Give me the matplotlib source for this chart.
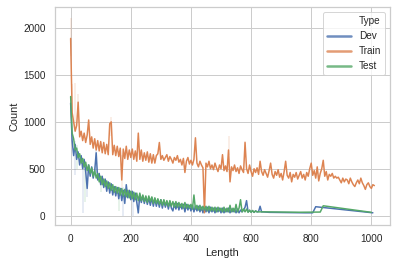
import numpy as np
import pandas as pd
import matplotlib
matplotlib.use('Agg')
import matplotlib.pyplot as plt
from matplotlib.lines import Line2D
import seaborn as sns

# values ---------------------------------------------------------------
train_x = list(range(0, 1015, 5))
train_y = [
    1890, 1100, 1000, 900, 960, 1210, 840, 900, 800, 880,
    780, 860, 1020, 760, 840, 720, 820, 700, 800, 690,
    790, 670, 780, 660, 760, 650, 980, 1000, 650, 750,
    640, 740, 630, 720, 380, 710, 610, 740, 600, 700,
    620, 710, 600, 690, 580, 880, 600, 700, 580, 670,
    590, 680, 570, 660, 560, 650, 560, 640, 660, 780,
    600, 640, 590, 620, 650, 580, 630, 600, 560, 620,
    590, 640, 570, 600, 540, 610, 460, 580, 620, 550,
    590, 540, 600, 830, 560, 520, 580, 540, 510, 30,
    560, 520, 580, 500, 540, 490, 560, 510, 470, 540,
    500, 650, 480, 530, 470, 700, 360, 520, 480, 540,
    470, 510, 450, 530, 490, 460, 780, 500, 450, 540,
    470, 420, 500, 460, 510, 440, 580, 470, 430, 490,
    450, 410, 480, 560, 440, 400, 470, 430, 490, 410,
    450, 380, 470, 580, 430, 400, 460, 360, 440, 410,
    460, 390, 430, 470, 400, 440, 380, 460, 420, 500,
    560, 430, 480, 400, 520, 370, 450, 500, 590, 420,
    470, 380, 440, 420, 450, 400, 420, 400, 410, 380,
    350, 400, 360, 390, 380, 340, 400, 360, 330, 310,
    350, 380, 340, 400, 350, 320, 280, 330, 350, 310,
    290, 330, 320,
]

dev_x = list(range(0, 645, 5)) + [660, 720, 780, 805, 815, 1005]
dev_y = [
    1200, 800, 640, 760, 600, 680, 540, 640, 500, 600,
    470, 290, 540, 420, 520, 400, 480, 670, 380, 450,
    330, 420, 300, 390, 260, 360, 240, 340, 220, 310,
    210, 300, 180, 290, 160, 270, 130, 330, 190, 270,
    170, 260, 150, 240, 140, 30, 220, 140, 210, 130,
    200, 120, 190, 110, 190, 100, 180, 100, 170, 90,
    170, 80, 160, 90, 150, 70, 150, 80, 50, 130,
    70, 130, 60, 120, 70, 120, 40, 120, 60, 110,
    50, 110, 40, 100, 50, 100, 40, 90, 30, 90,
    40, 90, 30, 90, 40, 80, 30, 80, 40, 80,
    30, 80, 30, 70, 40, 80, 30, 70, 40, 70,
    30, 70, 30, 60, 40, 60, 90, 160, 40, 50,
    40, 50, 35, 50, 40, 45, 100, 40, 40,
    35, 32, 30, 30, 95, 30,
]

test_x = list(range(0, 625, 5)) + [650, 700, 760, 830, 840, 1000]
test_y = [
    1270, 880, 820, 700, 720, 620, 660, 560, 610, 520,
    570, 480, 540, 450, 510, 420, 480, 400, 450, 360,
    420, 330, 390, 310, 370, 290, 350, 270, 330, 250,
    310, 240, 300, 220, 290, 210, 280, 200, 270, 190,
    260, 180, 250, 170, 240, 160, 240, 160, 220, 150,
    210, 140, 210, 150, 200, 130, 190, 130, 180, 120,
    170, 110, 170, 110, 160, 100, 160, 100, 150, 90,
    150, 90, 140, 90, 130, 80, 140, 80, 120, 80,
    120, 70, 220, 70, 110, 60, 110, 60, 100, 60,
    100, 50, 100, 50, 90, 50, 90, 40, 90, 50,
    80, 40, 90, 40, 80, 40, 110, 40, 80, 40,
    120, 40, 80, 170, 40, 70, 40, 70, 35, 60,
    35, 55, 35, 50, 40,
    40, 38, 36, 38, 105, 35,
]

# faint spread of repeated lengths: (length, low, high)
train_band = [(0, 1700, 2110), (3, 1000, 1400), (14, 900, 1415), (25, 1000, 1300),
              (135, 850, 1050), (170, 300, 650), (525, 650, 845), (580, 650, 800)]
dev_band = [(14, 430, 800), (40, 30, 600), (55, 200, 550), (85, 450, 700),
            (174, 0, 300), (207, 0, 250), (225, 20, 200)]
test_band = [(20, 500, 750), (48, 150, 550), (100, 250, 420), (160, 50, 300)]

types = ['Dev', 'Train', 'Test']

df = pd.concat([
    pd.DataFrame({'Length': dev_x, 'Count': dev_y, 'Type': 'Dev'}),
    pd.DataFrame({'Length': train_x, 'Count': train_y, 'Type': 'Train'}),
    pd.DataFrame({'Length': test_x, 'Count': test_y, 'Type': 'Test'}),
])

# plotting ---------------------------------------------------------------
sns.set_theme(style='whitegrid')
plt.rcParams['font.family'] = ['Liberation Sans', 'DejaVu Sans']
plt.rcParams['axes.labelsize'] = 11
plt.rcParams['xtick.labelsize'] = 10
plt.rcParams['ytick.labelsize'] = 10
plt.rcParams['legend.fontsize'] = 10

colors = sns.color_palette('deep')
pal = {'Dev': colors[0], 'Train': colors[1], 'Test': colors[2]}

fig = plt.figure(figsize=(397 / 72, 265 / 72), dpi=72)
ax = fig.add_axes([55 / 397, 40 / 265, 335 / 397, 218 / 265])

for name, band in zip(types, [dev_band, train_band, test_band]):
    bx = [b[0] for b in band]
    ax.vlines(bx, [b[1] for b in band], [b[2] for b in band],
              color=pal[name], alpha=0.18, linewidth=1.5)

sns.lineplot(data=df, x='Length', y='Count', hue='Type', hue_order=types,
             palette=pal, errorbar=None, linewidth=1.5, ax=ax, legend=False)

ax.set_xlim(-52, 1062)
ax.set_ylim(-100, 2225)
ax.set_xticks(range(0, 1001, 200))
ax.set_yticks(range(0, 2001, 500))

handles = [Line2D([], [], color='none')] + \
    [Line2D([], [], color=pal[t], linewidth=2.5, alpha=0.8) for t in types]
ax.legend(handles, ['Type'] + types, loc='upper right', frameon=True,
          handlelength=2.4)

fig.savefig('out.png', dpi=72)
